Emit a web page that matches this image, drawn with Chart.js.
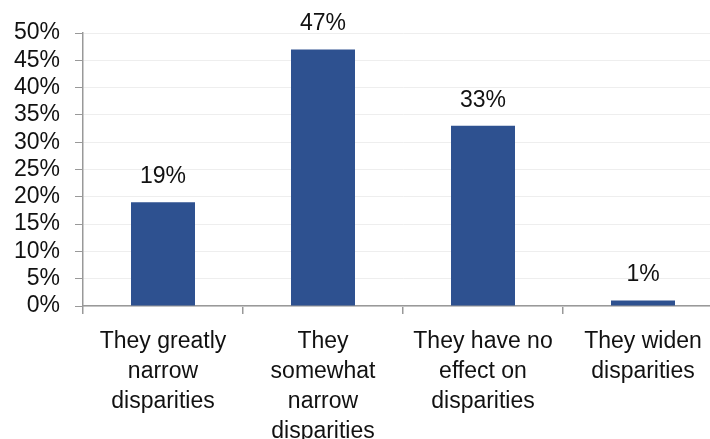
<!doctype html>
<html lang="en">
<head>
    <meta charset="utf-8">
    <title>Effect on disparities</title>
    <script src="https://cdn.jsdelivr.net/npm/chart.js"></script>
    <style>
        html, body { margin: 0; padding: 0; background: #fff; overflow: hidden; }
        #wrap { width: 730px; height: 439px; }
    </style>
</head>
<body>
    <div id="wrap"><canvas id="chart"></canvas></div>
    <script>
        const categories = [
            ['They greatly', 'narrow', 'disparities'],
            ['They', 'somewhat', 'narrow', 'disparities'],
            ['They have no', 'effect on', 'disparities'],
            ['They widen', 'disparities']
        ];
        const shares = [19, 47, 33, 1];
        const yTicks = [0, 5, 10, 15, 20, 25, 30, 35, 40, 45, 50];

        const FONT = 'Liberation Sans, Arial, sans-serif';

        // percentage labels above each bar
        const valueLabels = {
            id: 'valueLabels',
            afterDatasetsDraw(chart) {
                const ctx = chart.ctx;
                const meta = chart.getDatasetMeta(0);
                ctx.save();
                ctx.font = '23px ' + FONT;
                ctx.fillStyle = '#111';
                ctx.textAlign = 'center';
                ctx.textBaseline = 'bottom';
                meta.data.forEach((bar, i) => {
                    ctx.fillText(shares[i] + '%', bar.x, bar.y - 14);
                });
                ctx.restore();
            }
        };

        new Chart(document.getElementById('chart'), {
            type: 'bar',
            data: {
                labels: categories,
                datasets: [{
                    data: shares,
                    backgroundColor: '#2E5190',
                    borderWidth: 0,
                    categoryPercentage: 0.4,
                    barPercentage: 1
                }]
            },
            options: {
                responsive: true,
                maintainAspectRatio: false,
                animation: false,
                events: [],
                layout: { padding: { top: 33, right: 7, left: 0, bottom: 0 } },
                plugins: {
                    legend: { display: false },
                    tooltip: { enabled: false }
                },
                scales: {
                    x: {
                        offset: true,
                        afterFit(scale) { scale.height = 133; },
                        border: { color: '#999', width: 1.5 },
                        grid: {
                            offset: true,
                            drawOnChartArea: false,
                            tickLength: 8,
                            tickColor: '#999',
                            lineWidth: 1.5
                        },
                        ticks: {
                            color: '#111',
                            font: { family: FONT, size: 23, lineHeight: 1.3 },
                            padding: 13,
                            maxRotation: 0,
                            autoSkip: false
                        }
                    },
                    y: {
                        min: 0,
                        max: 50,
                        afterFit(scale) { scale.width = 83; },
                        afterBuildTicks(scale) {
                            scale.ticks = yTicks.map(v => ({ value: v }));
                        },
                        border: { color: '#999', width: 1.5 },
                        grid: {
                            color: '#EEEEEE',
                            tickColor: '#999',
                            tickLength: 8,
                            lineWidth: 1
                        },
                        ticks: {
                            color: '#111',
                            font: { family: FONT, size: 23 },
                            padding: 15,
                            autoSkip: false,
                            callback: v => v + '%'
                        }
                    }
                }
            },
            plugins: [valueLabels]
        });
    </script>
</body>
</html>
